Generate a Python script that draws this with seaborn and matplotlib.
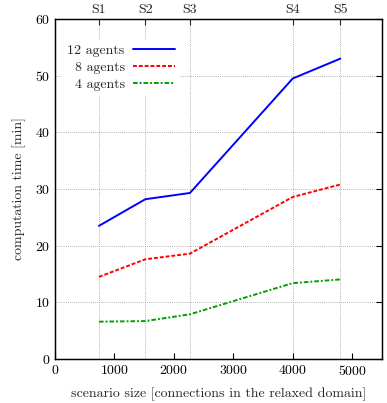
import pandas as pd
import matplotlib.pyplot as plt
import seaborn as sns

# scenario sizes (connections in the relaxed domain)
scenario_labels = ["S1", "S2", "S3", "S4", "S5"]
scenario_sizes = [740, 1520, 2270, 4000, 4800]

# computation time [min] per number of agents
time_12 = [23.5, 28.2, 29.3, 49.5, 53.0]
time_8 = [14.5, 17.6, 18.6, 28.6, 30.8]
time_4 = [6.6, 6.7, 7.9, 13.4, 14.05]

series = [
    ("12 agents", time_12, "#0000ff", None),
    ("8 agents", time_8, "#ff0000", (2, 1)),
    ("4 agents", time_4, "#00a000", (2.4, 1, 1, 1)),
]

sns.set_style("white")
plt.rcParams["font.family"] = "serif"
plt.rcParams["font.serif"] = ["cmr10", "DejaVu Serif"]
plt.rcParams["mathtext.fontset"] = "cm"
plt.rcParams["axes.formatter.use_mathtext"] = True
plt.rcParams["axes.unicode_minus"] = False
plt.rcParams["font.size"] = 10

fig = plt.figure(figsize=(3.87, 4.03), dpi=100)
ax = fig.add_axes([0.142, 0.109, 0.845, 0.844])

for label, values, color, dash in series:
    df = pd.DataFrame({"size": scenario_sizes, "time": values})
    sns.lineplot(data=df, x="size", y="time", ax=ax, color=color,
                 linewidth=1.4, label=label)
    if dash is not None:
        ax.get_lines()[-1].set_dashes(dash)

ax.set_xlim(0, 5500)
ax.set_ylim(0, 60)
ax.set_xticks(range(0, 5001, 1000))
ax.set_yticks(range(0, 61, 10))
ax.set_xlabel("scenario size [connections in the relaxed domain]", labelpad=7)
ax.set_ylabel("computation time [min]", labelpad=6)
ax.tick_params(direction="in", length=4, width=0.8, right=True, top=False,
               colors="black", labelsize=10)

# horizontal grid at y ticks, vertical grid at the scenarios
ax.yaxis.grid(True, linestyle=(0, (1, 1.5)), color="#999999", linewidth=0.6)
for xs in scenario_sizes:
    ax.axvline(xs, linestyle=(0, (1, 1.5)), color="#999999", linewidth=0.6, zorder=0)
ax.set_axisbelow(True)

top = ax.twiny()
top.set_xlim(ax.get_xlim())
top.set_xticks(scenario_sizes)
top.set_xticklabels(scenario_labels)
top.tick_params(direction="in", length=4, width=0.8, labelsize=10, pad=2)

for a in (ax, top):
    for s in a.spines.values():
        s.set_color("black")
        s.set_linewidth(0.9)

leg = ax.legend(loc="upper left", bbox_to_anchor=(0.0, 0.962), markerfirst=False,
                frameon=True, fancybox=False, edgecolor="none", framealpha=1,
                handlelength=3.0, handletextpad=0.6, labelspacing=0.3,
                borderpad=0.4, fontsize=10)
leg.get_frame().set_linewidth(0)

fig.savefig("out.png", dpi=100)
